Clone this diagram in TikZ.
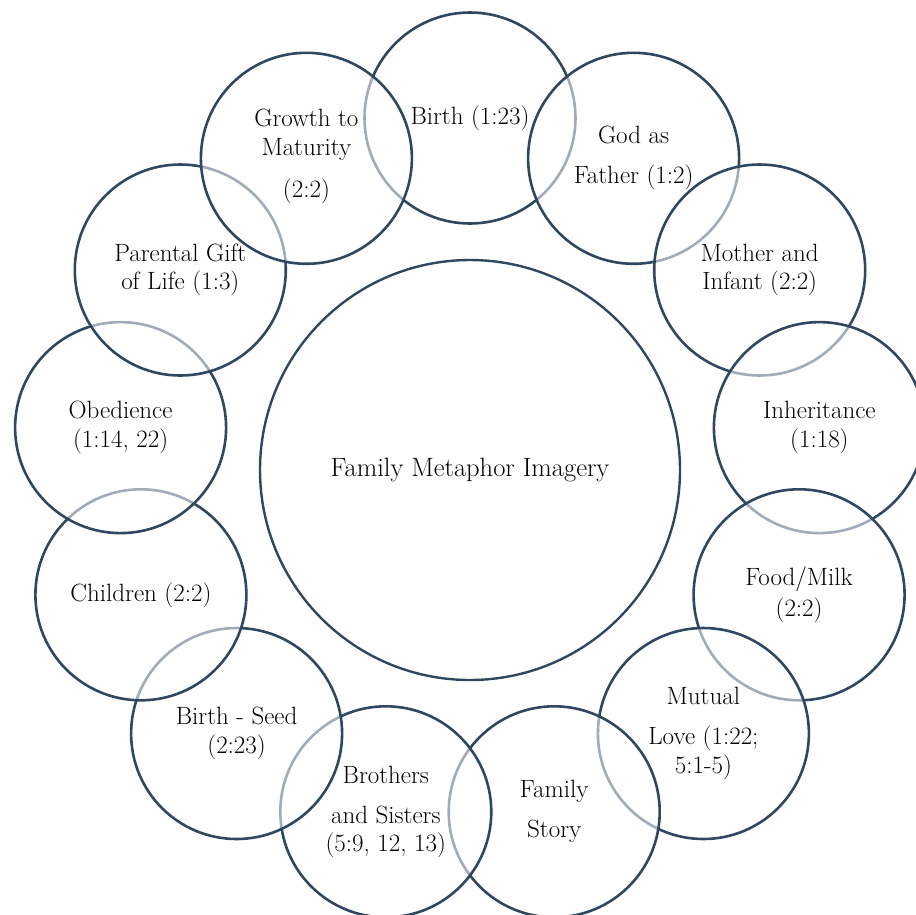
\documentclass[tikz,border=0pt]{standalone}
\usepackage{fontspec}
\definecolor{edge}{HTML}{2F4862}
\tikzset{
  bubble/.style={circle, draw=edge, line width=2.6pt, fill=white, fill opacity=0.55, draw opacity=1, minimum size=211pt, inner sep=0pt},
  hub/.style={circle, draw=edge, line width=2.4pt, fill=white, minimum size=420pt, inner sep=0pt},
  lbl/.style={align=center, inner sep=0pt, text=black, font=\fontsize{25}{28.5}\selectfont}
}
\begin{document}
\begin{tikzpicture}[x=1pt,y=-1pt]
\useasboundingbox (0,0) rectangle (916,914);
\node[hub] (hub) at (470,470) {};
\node[lbl, font=\fontsize{26.5}{30}\selectfont] (hubt) at (hub.center) {Family Metaphor Imagery};
% clockwise from top
\node[bubble] (c0) at (470,118) {};
\node[lbl] (t0) at (c0.center) {Birth (1:23)};
\node[bubble] (c1) at (633.6,158.3) {};
\node[lbl] (t1) at (c1.center) {God as\\[11.5pt]Father (1:2)};
\node[bubble] (c2) at (759.7,270) {};
\node[lbl] (t2) at (c2.center) {Mother and\\Infant (2:2)};
\node[bubble] (c3) at (819.4,427.6) {};
\node[lbl] (t3) at (c3.center) {Inheritance\\(1:18)};
\node[bubble] (c4) at (799.1,594.8) {};
\node[lbl] (t4) at (c4.center) {Food/Milk\\[2pt](2:2)};
\node[bubble] (c5) at (703.4,733.5) {};
\node[lbl] (t5) at (c5.center) {Mutual\\[11.5pt]Love (1:22;\\5:1-5)};
\node[bubble] (c6) at (554.2,811.8) {};
\node[lbl] (t6) at (c6.center) {Family\\[11.5pt]Story};
\node[bubble] (c7) at (385.8,811.8) {};
\node[lbl] (t7) at (c7.center) {Brothers\\[11.5pt]and Sisters\\(5:9, 12, 13)};
\node[bubble] (c8) at (236.6,733.5) {};
\node[lbl] (t8) at (c8.center) {Birth - Seed\\(2:23)};
\node[bubble] (c9) at (140.9,594.8) {};
\node[lbl] (t9) at (c9.center) {Children (2:2)};
\node[bubble] (c10) at (120.6,427.6) {};
\node[lbl] (t10) at (c10.center) {Obedience\\(1:14, 22)};
\node[bubble] (c11) at (180.3,270) {};
\node[lbl] (t11) at (c11.center) {Parental Gift\\of Life (1:3)};
\node[bubble] (c12) at (306.4,158.3) {};
\node[lbl] (t12) at ([yshift=2pt]c12.center) {Growth to\\Maturity\\[13.5pt](2:2)};
\end{tikzpicture}
\end{document}
